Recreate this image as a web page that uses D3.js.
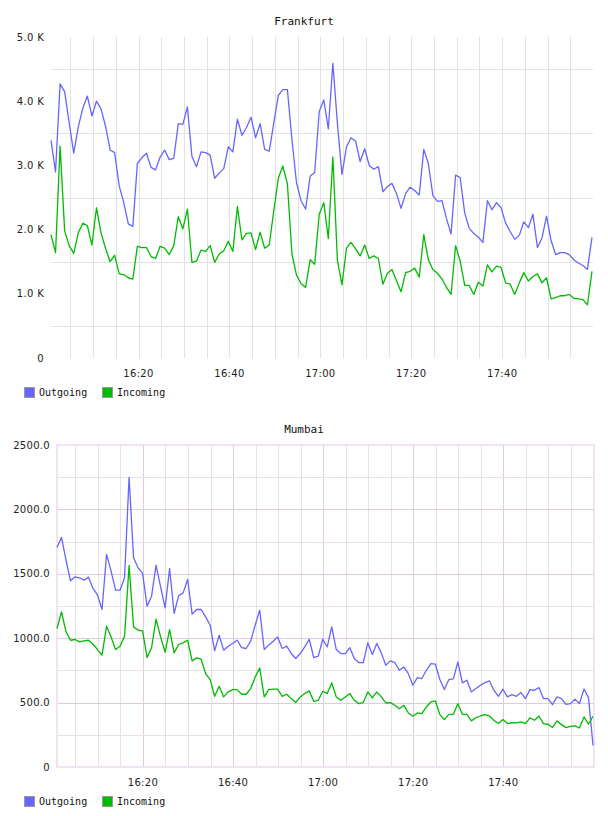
<!DOCTYPE html>
<html>
<head>
  <meta charset="UTF-8">
  <style>
    body { margin: 0; background: #fff; }
    .title { font-family: 'DejaVu Sans Mono', monospace; font-size: 11px; fill: #111; text-anchor: middle; }
    .tick-label { font-family: 'DejaVu Sans', sans-serif; font-size: 10px; fill: #222; letter-spacing: 0.3px; }
    .legend-label { font-family: 'DejaVu Sans Mono', monospace; font-size: 10px; fill: #111; }
  </style>
</head>
<body>
  <script src="https://d3js.org/d3.v7.min.js"></script>
  <svg id="chart" width="608" height="816"></svg>
  <script>
    // one sample per minute
    let frankfurtStart = "16:00:45";
    let mumbaiStart = "16:00:55";

    let frankfurtOutgoing = [3390,2900,4270,4150,3660,3190,3600,3890,4080,3770,
      4000,3880,3610,3240,3200,2680,2420,2090,2050,3030,
      3120,3190,2970,2930,3130,3240,3090,3110,3650,3640,
      3910,3140,2980,3210,3200,3160,2800,2880,2950,3290,
      3210,3720,3470,3590,3750,3430,3650,3250,3220,3660,
      4090,4180,4180,3400,2730,2450,2320,2830,2890,3840,
      4020,3570,4590,3650,2860,3290,3430,3380,3060,3260,
      3000,2940,2980,2590,2670,2720,2560,2330,2560,2660,
      2610,2540,3250,3030,2530,2440,2450,2170,1930,2850,
      2810,2260,2020,1940,1880,1800,2450,2310,2420,2340,
      2100,1970,1850,1910,2120,2030,2240,1720,1870,2210,
      1830,1610,1640,1640,1610,1530,1480,1440,1380,1880];

    let frankfurtIncoming = [1920,1640,3300,1980,1750,1630,1950,2100,2060,1760,
      2340,1950,1710,1500,1600,1310,1300,1250,1230,1740,
      1720,1720,1580,1550,1740,1710,1610,1750,2200,2010,
      2320,1490,1510,1680,1660,1750,1490,1620,1670,1820,
      1660,2360,1840,1940,1950,1690,1960,1710,1760,2290,
      2800,2990,2710,1620,1290,1160,1100,1530,1460,2240,
      2420,1860,3130,1520,1140,1710,1800,1700,1590,1760,
      1550,1590,1550,1150,1320,1380,1200,1030,1330,1350,
      1400,1260,1920,1530,1380,1320,1230,1100,990,1750,
      1510,1130,1130,990,1180,1120,1450,1340,1430,1410,
      1170,1150,990,1170,1330,1200,1270,1310,1170,1250,
      920,940,970,970,990,930,920,910,830,1350];

    let mumbaiOutgoing = [1705,1782,1606,1446,1477,1469,1451,1474,1386,1334,
      1223,1650,1523,1373,1373,1471,2249,1624,1547,1503,
      1249,1326,1567,1399,1236,1541,1192,1329,1352,1456,
      1187,1223,1223,1166,1101,902,1023,907,938,959,
      984,927,920,977,1101,1218,912,946,977,1010,
      920,938,881,842,881,933,992,850,860,992,
      933,1088,912,881,881,927,842,811,811,964,
      873,959,886,790,824,811,751,777,725,635,
      694,687,751,803,798,679,601,679,684,816,
      653,674,583,609,635,655,668,596,549,604,
      544,562,549,578,531,601,596,617,531,531,
      484,544,531,487,492,526,492,606,539,168];

    let mumbaiIncoming = [1075,1205,1049,984,990,972,979,984,953,912,
      868,1093,1010,912,938,1016,1565,1088,1062,1057,
      850,927,1148,1010,891,1067,886,951,964,984,
      824,847,837,725,679,549,627,544,583,601,
      601,565,565,609,699,769,544,601,604,604,
      549,565,531,500,544,570,591,510,518,588,
      570,653,544,518,544,570,518,492,500,583,
      536,583,544,497,500,479,453,479,420,394,
      420,415,466,505,513,407,368,409,409,492,
      409,409,358,383,396,407,396,363,337,368,
      337,345,342,350,337,381,363,394,337,332,
      306,358,329,306,316,319,303,389,332,394];

    let seriesNames = ["Outgoing", "Incoming"];
    let seriesColors = ["#6666ff", "#00bb00"];

    let frankfurtTicks = [0, 1000, 2000, 3000, 4000, 5000];
    let frankfurtTickLabels = ["0", "1.0 K", "2.0 K", "3.0 K", "4.0 K", "5.0 K"];
    let frankfurtGrid = [500, 1500, 2500, 3500, 4500];

    let mumbaiTicks = [0, 500, 1000, 1500, 2000, 2500];
    let mumbaiTickLabels = ["0", "500.0", "1000.0", "1500.0", "2000.0", "2500.0"];
    let mumbaiMinorGrid = [250, 750, 1250, 1750, 2250];

    let svg = d3.select("#chart");
    let parseTime = d3.timeParse("%Y-%m-%d %H:%M:%S");
    let fmt = d3.timeFormat("%H:%M");

    function makeTimes(start, n) {
      let t0 = parseTime("2020-01-01 " + start);
      return d3.range(n).map(i => d3.timeMinute.offset(t0, i));
    }

    function drawChart(cfg) {
      let g = svg.append("g");
      let times = makeTimes(cfg.start, cfg.series[0].length);

      let x = d3.scaleTime()
        .domain(d3.extent(times))
        .range([cfg.left, cfg.right]);
      let y = d3.scaleLinear()
        .domain(cfg.yDomain)
        .range([cfg.bottom, cfg.top]);

      let minorTimes = x.ticks(d3.timeMinute.every(5));
      let majorTimes = x.ticks(d3.timeMinute.every(20));

      // vertical grid
      g.selectAll(".vgrid")
        .data(minorTimes)
        .enter().append("line")
          .attr("x1", d => Math.round(x(d)) + 0.5)
          .attr("x2", d => Math.round(x(d)) + 0.5)
          .attr("y1", cfg.top)
          .attr("y2", cfg.bottom)
          .attr("stroke", d => (cfg.majorColor && d.getMinutes() % 20 == 0) ? cfg.majorColor : cfg.gridColor)
          .attr("stroke-width", 1);

      // horizontal grid
      g.selectAll(".hgrid")
        .data(cfg.minorGrid)
        .enter().append("line")
          .attr("x1", cfg.left)
          .attr("x2", cfg.right + 1)
          .attr("y1", d => Math.round(y(d)) + 0.5)
          .attr("y2", d => Math.round(y(d)) + 0.5)
          .attr("stroke", cfg.gridColor);

      if (cfg.majorColor) {
        g.selectAll(".hmajor")
          .data(cfg.ticks.slice(1, -1))
          .enter().append("line")
            .attr("x1", cfg.left)
            .attr("x2", cfg.right + 1)
            .attr("y1", d => Math.round(y(d)) + 0.5)
            .attr("y2", d => Math.round(y(d)) + 0.5)
            .attr("stroke", cfg.majorColor);
        g.append("rect")
          .attr("x", cfg.left)
          .attr("y", cfg.top)
          .attr("width", cfg.right + 1 - cfg.left)
          .attr("height", cfg.bottom - cfg.top)
          .attr("fill", "none")
          .attr("stroke", cfg.frameColor)
          .attr("stroke-width", 1.5);
      }

      // y labels
      g.selectAll(".ylab")
        .data(cfg.ticks)
        .enter().append("text")
          .attr("class", "tick-label")
          .attr("x", cfg.left - 7)
          .attr("y", d => y(d))
          .attr("dy", "0.35em")
          .attr("text-anchor", "end")
          .text((d, i) => cfg.tickLabels[i]);

      // x labels
      g.selectAll(".xlab")
        .data(majorTimes)
        .enter().append("text")
          .attr("class", "tick-label")
          .attr("x", d => x(d))
          .attr("y", cfg.bottom + 15)
          .attr("dy", "0.35em")
          .attr("text-anchor", "middle")
          .text(d => fmt(d));

      // title
      g.append("text")
        .attr("class", "title")
        .attr("x", 304)
        .attr("y", cfg.top - 12)
        .text(cfg.title);

      // lines
      let line = d3.line()
        .x((d, i) => x(times[i]))
        .y(d => y(d));
      cfg.series.forEach((s, k) => {
        g.append("path")
          .datum(s)
          .attr("fill", "none")
          .attr("stroke", seriesColors[k])
          .attr("stroke-width", 1.3)
          .attr("stroke-linejoin", "round")
          .attr("d", line);
      });

      // legend
      let legendX = [24, 102];
      seriesNames.forEach((name, k) => {
        g.append("rect")
          .attr("x", legendX[k] + 0.5)
          .attr("y", cfg.bottom + 29.5)
          .attr("width", 10)
          .attr("height", 10)
          .attr("fill", seriesColors[k])
          .attr("stroke", "#999");
        g.append("text")
          .attr("class", "legend-label")
          .attr("x", legendX[k] + 15)
          .attr("y", cfg.bottom + 34.5)
          .attr("dy", "0.35em")
          .text(name);
      });
    }

    drawChart({
      title: "Frankfurt",
      start: frankfurtStart,
      series: [frankfurtOutgoing, frankfurtIncoming],
      left: 51, right: 592, top: 37, bottom: 358,
      yDomain: [0, 5000],
      ticks: frankfurtTicks,
      tickLabels: frankfurtTickLabels,
      minorGrid: frankfurtGrid,
      gridColor: "#e2e2e2"
    });

    drawChart({
      title: "Mumbai",
      start: mumbaiStart,
      series: [mumbaiOutgoing, mumbaiIncoming],
      left: 57, right: 593, top: 445, bottom: 767,
      yDomain: [0, 2500],
      ticks: mumbaiTicks,
      tickLabels: mumbaiTickLabels,
      minorGrid: mumbaiMinorGrid,
      gridColor: "#e6e2e6",
      majorColor: "#e2c8e2",
      frameColor: "#eedaee"
    });
  </script>
</body>
</html>
